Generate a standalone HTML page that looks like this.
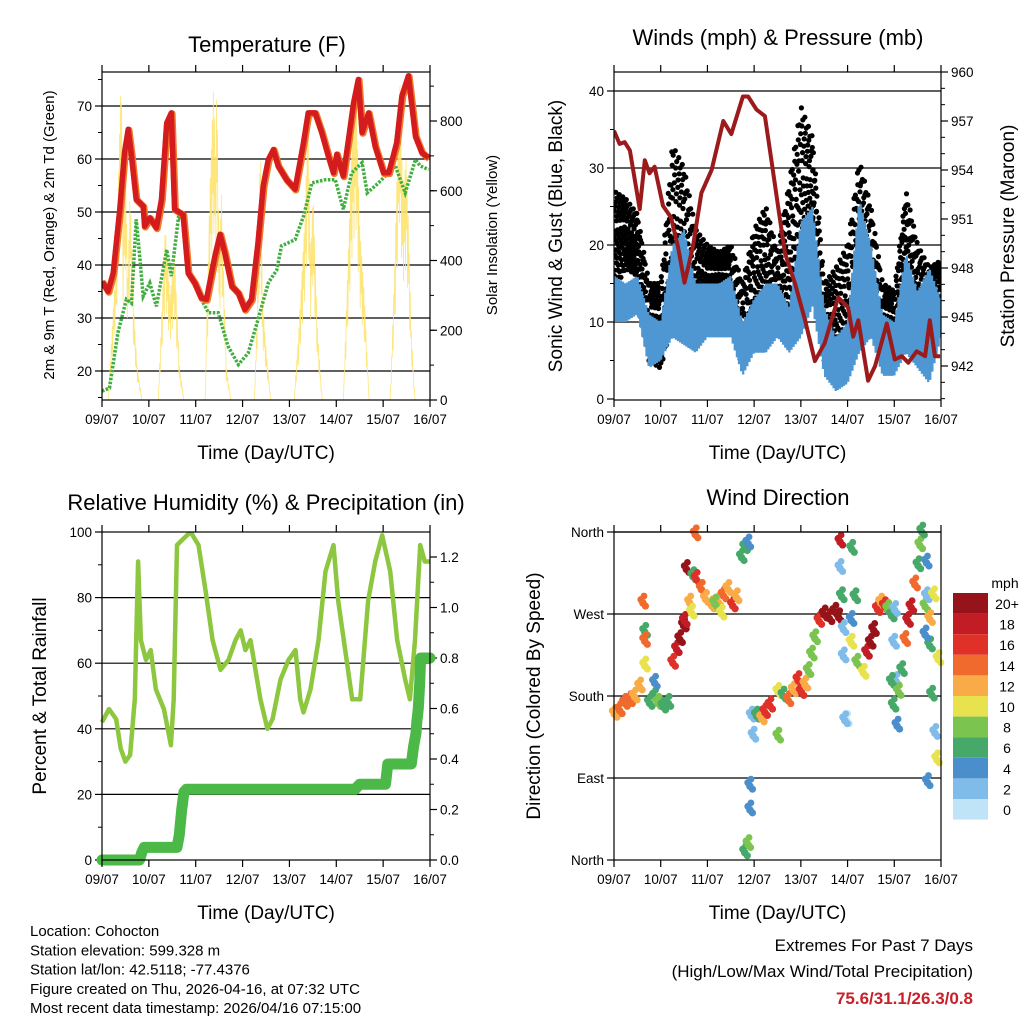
<!DOCTYPE html>
<html><head><meta charset="utf-8"><style>
html,body{margin:0;padding:0;background:#fff;}
svg{display:block;font-family:"Liberation Sans",sans-serif;}
</style></head><body>
<svg id="c" width="1024" height="1024" viewBox="0 0 1024 1024"></svg>
<script>
// ---------- DATA ----------
const dayLabels=["09/07","10/07","11/07","12/07","13/07","14/07","15/07","16/07"];
const tempT=[0,0.13,0.24,0.38,0.48,0.56,0.63,0.73,0.88,0.91,1.02,1.16,1.27,1.38,1.48,1.55,1.73,1.84,1.98,2.12,2.23,2.41,2.52,2.62,2.77,2.91,3.05,3.19,3.33,3.44,3.55,3.66,3.76,3.94,4.12,4.30,4.40,4.55,4.69,4.83,4.94,5.01,5.15,5.26,5.37,5.47,5.55,5.69,5.83,6.01,6.12,6.29,6.40,6.54,6.69,6.83,6.97];
const tempV=[36.9,35.0,38.5,50.5,61.2,65.6,60.6,52.4,51.1,47.3,48.9,47.0,52.4,66.8,68.7,50.5,49.5,38.5,36.6,33.8,33.5,41.7,45.8,42.3,36.0,34.7,31.6,33.5,44.2,54.9,59.9,61.8,58.7,56.1,54.3,63.1,68.7,68.7,65.0,60.6,57.4,60.9,56.8,63.7,70.6,75.0,65.0,68.7,62.4,57.4,57.4,63.1,71.9,75.7,64.3,61.2,60.2];
const dewT=[0,0.16,0.34,0.52,0.63,0.73,0.81,0.88,1.02,1.16,1.38,1.48,1.63,1.73,1.84,2.05,2.27,2.48,2.69,2.91,3.12,3.33,3.55,3.73,3.83,4.12,4.30,4.48,4.77,4.98,5.15,5.33,5.55,5.66,5.90,6.26,6.47,6.69,6.79,6.97];
const dewV=[16.2,16.8,27.2,33.5,32.8,48.6,41.0,34.1,36.6,32.2,42.9,37.9,48.9,48.6,38.5,34.7,31.0,31.0,24.7,21.2,23.4,29.7,36.6,39.1,43.6,44.8,49.2,55.5,56.1,56.1,50.5,57.4,59.3,53.6,55.5,58.7,53.6,59.9,58.7,58.0];
// solar insolation envelope (upper values of the daytime spikes)
const solarT=[0,0.13,0.3,0.41,0.45,0.5,0.55,0.6,0.68,0.75,0.85,1.2,1.35,1.45,1.55,1.65,1.75,2.2,2.3,2.38,2.42,2.45,2.5,2.55,2.65,2.75,3.25,3.3,3.35,3.38,3.42,3.5,3.6,4.1,4.2,4.32,4.4,4.45,4.5,4.6,4.7,5.15,5.25,5.35,5.42,5.5,5.6,5.7,6.15,6.25,6.35,6.42,6.5,6.6,6.68,7.0];
const solarV=[0,0,400,940,500,700,350,600,250,100,0,0,500,300,420,100,0,0,600,900,700,920,400,600,100,0,0,200,500,780,300,150,0,0,200,500,820,400,600,200,0,0,400,800,900,500,300,0,0,400,940,600,700,200,0,0];
const windT=[0,0.25,0.5,0.75,1.0,1.25,1.5,1.75,2.0,2.25,2.5,2.75,3.0,3.25,3.5,3.75,4.0,4.25,4.5,4.75,5.0,5.25,5.5,5.75,6.0,6.25,6.5,6.75,7.0];
const windLo=[10,10,11,4,5,8,7,6,8,8,8,3,6,6,8,6,8,12,3,1,2,6,8,3,3,6,4,2,8];
const windHi=[16,15,16,11,10,20,22,15,15,15,16,10,13,15,15,12,23,25,12,8,10,26,20,11,10,19,14,17,13];
const gustLo=[14,17,16,5,4,10,12,10,10,12,10,4,8,10,10,12,15,20,5,2,5,12,12,5,5,15,8,6,10];
const gustHi=[27,26,24,15,15,33,30,22,20,19,20,15,22,25,19,28,38,34,15,17,20,31,25,15,14,27,20,17,18];
const presT=[0,0.12,0.23,0.34,0.55,0.66,0.76,0.87,1.05,1.22,1.37,1.51,1.69,1.87,2.09,2.34,2.51,2.76,2.87,3.05,3.23,3.37,3.51,3.66,3.87,4.09,4.30,4.51,4.80,5.01,5.12,5.23,5.44,5.59,5.84,6.01,6.16,6.30,6.48,6.66,6.76,6.87,6.98];
const presV=[956.4,955.6,955.7,955.2,951.6,954.6,953.8,954.2,951.8,951.1,949.3,947.1,949.3,952.6,954.0,957.0,956.2,958.5,958.5,957.7,957.3,954.6,951.8,948.9,947.1,944.8,942.3,943.4,946.2,945.6,943.8,944.8,941.1,942.0,944.6,942.4,942.6,942.2,942.9,942.6,944.8,942.6,942.6];
const rhT=[0,0.15,0.3,0.4,0.5,0.6,0.7,0.77,0.83,0.94,1.04,1.15,1.32,1.47,1.53,1.6,1.74,1.89,2.06,2.21,2.36,2.53,2.70,2.85,2.96,3.06,3.17,3.38,3.53,3.64,3.81,3.98,4.13,4.23,4.30,4.45,4.62,4.77,4.94,5.04,5.19,5.34,5.51,5.68,5.83,5.98,6.15,6.30,6.47,6.57,6.68,6.79,6.89,7.0];
const rhV=[42,46,43,34,30,32,49,91,67,61,64,52,46,35,49,96,98,100,96,82,67,58,61,67,70,64,67,49,40,43,55,61,64,49,45,52,67,88,96,79,64,49,49,79,91,99,88,67,55,49,67,96,91,91];
const rainT=[0,0.15,0.5,0.8,0.85,0.9,1.6,1.65,1.7,1.75,1.8,5.4,5.5,6.05,6.1,6.6,6.65,6.7,6.72,6.75,6.78,6.8,7.0];
const rainV=[0,0,0,0,0.03,0.05,0.05,0.1,0.2,0.27,0.28,0.28,0.3,0.3,0.38,0.38,0.45,0.5,0.55,0.6,0.7,0.8,0.8];
// wind direction observations: time (day), direction (deg), speed (mph)
const dirT=[0.01,0.12,0.23,0.34,0.44,0.55,0.62,0.66,0.66,0.66,0.76,0.87,0.94,1.05,1.16,0.87,1.26,1.34,1.41,1.49,1.51,1.55,1.62,1.66,1.69,1.76,1.87,1.96,2.09,2.23,2.34,2.44,2.54,2.62,2.16,2.30,2.73,2.80,2.87,1.74,2.80,2.87,2.91,2.91,2.94,2.98,3.05,3.16,3.23,3.34,3.51,3.51,3.62,3.73,3.84,3.94,4.01,4.09,4.16,4.23,4.30,4.39,4.50,4.61,4.73,4.81,4.84,4.84,4.87,4.91,4.91,4.98,4.94,5.08,5.08,5.09,5.16,5.20,5.34,5.41,5.49,5.56,5.64,5.71,5.79,5.86,5.94,5.99,6.01,6.04,6.06,5.94,5.98,6.09,6.16,6.23,6.29,6.36,6.44,6.51,6.55,6.59,6.66,6.69,6.76,6.76,6.71,6.80,6.87,6.91,6.94,6.84,6.66,6.69];
const dirV=[160,164,172,175,179,190,282,250,213,240,172,179,172,168,172,194,216,231,242,257,262,319,282,271,311,308,297,286,279,283,290,297,279,288,281,270,332,343,347,357,8,17,55,81,158,136,158,155,162,169,184,135,180,175,186,197,184,192,207,225,243,262,269,265,272,266,349,320,289,253,223,153,153,263,238,341,288,216,205,227,238,252,275,282,278,275,268,238,274,196,147,195,169,184,208,241,262,277,302,323,345,360,278,289,264,235,85,181,139,110,220,290,247,326,1,12];
const dirS=[12,14,14,15,13,12,14,6,10,14,6,7,8,7,7,5,16,18,20,20,18,20,12,10,6,16,14,13,12,12,14,12,16,12,8,10,6,6,4,14,7,8,4,4,3,2,6,12,16,16,10,8,6,14,12,16,16,12,8,8,8,16,20,20,20,20,19,3,6,3,2,1,3,4,10,6,7,8,10,18,20,20,16,12,16,8,6,3,3,2,4,6,6,8,7,14,18,18,14,6,8,6,8,3,12,6,4,6,2,10,10,10,4,4,8,3];
const cbarLabels=["20+","18","16","14","12","10","8","6","4","2","0"];
const cbarColors=["#961419","#c21d25","#df3127","#f06a2e","#f9ab48","#e8e24e","#7cc450","#46a96a","#4a8fcc","#80bce9","#bfe4f8"];

// ---------- HELPERS ----------
const svg=document.getElementById('c');
const NS="http://www.w3.org/2000/svg";
function el(tag,attrs,parent){const e=document.createElementNS(NS,tag);for(const k in attrs)e.setAttribute(k,attrs[k]);(parent||svg).appendChild(e);return e;}
function txt(s,x,y,size,anchor,parent,extra){const t=el('text',Object.assign({x:x,y:y,'font-size':size,'text-anchor':anchor||'middle',fill:'#000'},extra||{}),parent);t.textContent=s;return t;}
function lin(d0,d1,r0,r1){return v=>r0+(v-d0)/(d1-d0)*(r1-r0);}
function pathFrom(xs,ys,sx,sy){return xs.map((v,i)=>(i?'L':'M')+sx(v).toFixed(1)+','+sy(ys[i]).toFixed(1)).join('');}
function interp(ts,vs,t){if(t<=ts[0])return vs[0];for(let i=1;i<ts.length;i++){if(t<=ts[i]){const f=(t-ts[i-1])/(ts[i]-ts[i-1]);return vs[i-1]+f*(vs[i]-vs[i-1]);}}return vs[vs.length-1];}

function frame(g,X0,X1,Y0,Y1,sx){
  const r=el('rect',{x:X0,y:Y0,width:X1-X0,height:Y1-Y0,fill:'none',stroke:'#000','stroke-width':1.2},g);
  
  
  dayLabels.forEach((d,i)=>{const x=sx(i);
    el('line',{x1:x,y1:Y1,x2:x,y2:Y1+7,stroke:'#000','stroke-width':1.2},g);
    el('line',{x1:x,y1:Y0,x2:x,y2:Y0-7,stroke:'#000','stroke-width':1.2},g);
    const t=txt(d,x,Y1+24,13.5,'middle',g);
    
    
  });
  const xt=txt('Time (Day/UTC)',(X0+X1)/2,Y1+59,19,'middle',g);
  
  
}
function yTicks(g,vals,labels,sy,x,side,grid,X0,X1,minor){
  vals.forEach((v,i)=>{const y=sy(v);
    el('line',{x1:x,y1:y,x2:x+(side<0?-7:7),y2:y,stroke:'#000','stroke-width':1.2},g);
    if(grid) el('line',{x1:X0,y1:y,x2:X1,y2:y,stroke:'#000','stroke-width':1.2},g);
    const t=txt(labels[i],x+(side<0?-10:10),y+5,13.5,side<0?'end':'start',g);
    
    
  });
  (minor||[]).forEach(v=>{const y=sy(v);el('line',{x1:x,y1:y,x2:x+(side<0?-4:4),y2:y,stroke:'#000','stroke-width':1},g);});
}
function vlabel(s,x,y,size,g,name){const t=txt(s,x,y,size,'middle',g,{transform:'rotate(-90 '+x+' '+y+')'});return t;}
function range(a,b,s){const r=[];for(let v=a;v<=b+1e-9;v+=s)r.push(+v.toFixed(3));return r;}

// ---------- PANEL 1: TEMPERATURE ----------
(function(){
  const X0=102,X1=430,Y0=72,Y1=400;
  const g=el('g',{});
  
  
  const sx=lin(0,7,X0,X1), sy=lin(20,70,371,106), sr=lin(0,800,Y1,121);
  const clip=el('clipPath',{id:'cp1'},g);el('rect',{x:X0,y:Y0,width:X1-X0,height:Y1-Y0},clip);
  yTicks(g,[20,30,40,50,60,70],["20","30","40","50","60","70"],sy,X0,-1,true,X0,X1,range(15,75,5));
  yTicks(g,[0,200,400,600,800],["0","200","400","600","800"],sr,X1,1,false,X0,X1,range(0,900,100));
  const data=el('g',{'clip-path':'url(#cp1)'},g);
  let d='',k=0;
  for(let t=0;t<=7;t+=0.011,k++){
    const env=interp(solarT,solarV,t);
    const v=(k%2===0)?env:env*([0.3,0.55,0.15,0.7][k%4]);
    d+=(k?'L':'M')+sx(t).toFixed(1)+','+sr(v).toFixed(1);
  }
  const s=el('path',{d:d,fill:'none',stroke:'#fde36e','stroke-width':0.8,opacity:0.9},data);
  
  const dw=el('path',{d:pathFrom(dewT,dewV,sx,sy),fill:'none',stroke:'#3fae3f','stroke-width':3.5,'stroke-dasharray':'2.5 1.5'},data);
  
  const o=el('path',{d:pathFrom(tempT,tempV,sx,sy),fill:'none',stroke:'#f07a2a','stroke-width':7,'stroke-linejoin':'round',transform:'translate(0.8,0.8)'},data);
  
  const r=el('path',{d:pathFrom(tempT,tempV,sx,sy),fill:'none',stroke:'#d41c1f','stroke-width':5.5,'stroke-linejoin':'round'},data);
  
  frame(g,X0,X1,Y0,Y1,sx);
  const t=txt('Temperature (F)',267,52,22,'middle',g);
  vlabel('2m & 9m T (Red, Orange) & 2m Td (Green)',54,235,15,g,'temperature-y-axis-title');
  vlabel('Solar Insolation (Yellow)',497,235,15,g,'solar-y-axis-title');
})();

// ---------- PANEL 2: WINDS & PRESSURE ----------
(function(){
  const X0=614,X1=941,Y0=72,Y1=400;
  const g=el('g',{});
  
  
  const sx=lin(0,7,X0,X1), sy=lin(0,40,399,91), sp=lin(942,960,366,72);
  const clip=el('clipPath',{id:'cp2'},g);el('rect',{x:X0,y:Y0,width:X1-X0,height:Y1-Y0},clip);
  yTicks(g,[0,10,20,30,40],["0","10","20","30","40"],sy,X0,-1,false,X0,X1,range(5,40,5));
  [10,20,30,40].forEach(v=>el('line',{x1:X0,y1:sy(v),x2:X1,y2:sy(v),stroke:'#000','stroke-width':1.2},g));
  yTicks(g,[942,945,948,951,954,957,960],["942","945","948","951","954","957","960"],sp,X1,1,false,X0,X1,range(940,960,1));
  const data=el('g',{'clip-path':'url(#cp2)'},g);
  const gg=el('g',{fill:'#000'},data);
  let k=0;
  for(let t=0;t<=7;t+=0.0075,k++){
    const lo=interp(windT,gustLo,t),hi=interp(windT,gustHi,t);
    const fr=[0,0.55,0.2,0.85,0.4,1,0.1,0.7,0.3,0.95][k%10];
    const fr2=[0.6,0.15,0.8,0.35,0.05,0.5,0.9,0.25,0.75,0.45][k%10];
    el('circle',{cx:sx(t).toFixed(1),cy:sy(lo+(hi-lo)*fr).toFixed(1),r:2.6},gg);
    el('circle',{cx:sx(t).toFixed(1),cy:sy(lo+(hi-lo)*fr2).toFixed(1),r:2.6},gg);
  }
  let d='';k=0;
  for(let t=0;t<=7;t+=0.005,k++){
    const lo=interp(windT,windLo,t),hi=interp(windT,windHi,t);
    const f=[0.1,0.9,0.4,1,0,0.7,0.25,0.85,0.55][k%9];
    d+=(k?'L':'M')+sx(t).toFixed(1)+','+sy(lo+(hi-lo)*f).toFixed(1);
  }
  const bl=el('path',{d:d,fill:'none',stroke:'#4f97d2','stroke-width':2.2},data);
  
  const p=el('path',{d:pathFrom(presT,presV,sx,sp),fill:'none',stroke:'#9b1a1c','stroke-width':4,'stroke-linejoin':'round'},data);
  
  frame(g,X0,X1,Y0,Y1,sx);
  const t=txt('Winds (mph) & Pressure (mb)',778,45,22,'middle',g);
  vlabel('Sonic Wind & Gust (Blue, Black)',562,236,19,g,'wind-y-axis-title');
  vlabel('Station Pressure (Maroon)',1014,236,19,g,'pressure-y-axis-title');
})();

// ---------- PANEL 3: RH & PRECIP ----------
(function(){
  const X0=102,X1=430,Y0=532,Y1=860;
  const g=el('g',{});
  
  
  const sx=lin(0,7,X0,X1), sy=lin(0,100,860,532), sr=lin(0,1.2,860,557);
  const clip=el('clipPath',{id:'cp3'},g);el('rect',{x:X0-8,y:Y0,width:X1-X0+16,height:Y1-Y0+8},clip);
  yTicks(g,[0,20,40,60,80,100],["0","20","40","60","80","100"],sy,X0,-1,false,X0,X1,range(10,90,20));
  [20,40,60,80].forEach(v=>el('line',{x1:X0,y1:sy(v),x2:X1,y2:sy(v),stroke:'#000','stroke-width':1.2},g));
  yTicks(g,[0,0.2,0.4,0.6,0.8,1.0,1.2],["0.0","0.2","0.4","0.6","0.8","1.0","1.2"],sr,X1,1,false,X0,X1,range(0.1,1.2,0.2));
  const data=el('g',{'clip-path':'url(#cp3)'},g);
  const rh=el('path',{d:pathFrom(rhT,rhV,sx,sy),fill:'none',stroke:'#8dc63f','stroke-width':4.5,'stroke-linejoin':'round'},data);
  
  const rn=el('path',{d:pathFrom(rainT,rainV,sx,sr),fill:'none',stroke:'#4cb848','stroke-width':11,'stroke-linejoin':'round','stroke-linecap':'round'},data);
  
  frame(g,X0,X1,Y0,Y1,sx);
  const t=txt('Relative Humidity (%) & Precipitation (in)',266,510,22,'middle',g);
  vlabel('Percent & Total Rainfall',46,696,19,g,'humidity-y-axis-title');
})();

// ---------- PANEL 4: WIND DIRECTION ----------
(function(){
  const X0=614,X1=941,Y0=532,Y1=860;
  const g=el('g',{});
  
  
  const sx=lin(0,7,X0,X1), sy=lin(0,360,860,532);
  yTicks(g,[0,90,180,270,360],["North","East","South","West","North"],sy,X0,-1,false,X0,X1,[]);
  [90,180,270,360].forEach(v=>el('line',{x1:X0,y1:sy(v),x2:X1,y2:sy(v),stroke:'#000','stroke-width':1.2},g));
  const data=el('g',{},g);
  function col(s){const idx=Math.min(10,Math.floor(s/2));return cbarColors[10-idx];}
  dirT.forEach((t,i)=>{
    const x=sx(t),y=sy(dirV[i]),c=col(dirS[i]);
    el('circle',{cx:x,cy:y,r:3.8,fill:c},data);
    el('circle',{cx:x+2.5,cy:y+3,r:3.6,fill:c},data);
    el('circle',{cx:x-2,cy:y-3.5,r:3.6,fill:c},data);
    el('circle',{cx:x+1,cy:y-7,r:3.4,fill:c},data);
  });
  frame(g,X0,X1,Y0,Y1,sx);
  const t=txt('Wind Direction',778,505,22,'middle',g);
  vlabel('Direction (Colored By Speed)',540,696,19,g,'direction-y-axis-title');
  const cb=el('g',{},g);
  const ct=txt('mph',1005,588,14,'middle',cb);
  cbarLabels.forEach((l,i)=>{
    const y=593+i*20.6;
    el('rect',{x:953,y:y,width:35,height:20.6,fill:cbarColors[i]},cb);
    const lt=txt(l,1007,y+16,14,'middle',cb);
    
    
  });
})();

// ---------- FOOTER TEXT ----------
(function(){
  const g=el('g',{});
  
  
  ["Location: Cohocton","Station elevation: 599.328 m","Station lat/lon: 42.5118; -77.4376","Figure created on Thu, 2026-04-16, at 07:32 UTC","Most recent data timestamp: 2026/04/16 07:15:00"].forEach((s,i)=>{
    const t=txt(s,30,936+i*19.3,15,'start',g);
    
    
  });
  const e=el('g',{});
  
  
  const a=txt('Extremes For Past 7 Days',973,951,17,'end',e);
  const b=txt('(High/Low/Max Wind/Total Precipitation)',973,977,17,'end',e);
  const c=txt('75.6/31.1/26.3/0.8',973,1004,17,'end',e,{fill:'#c8202a','font-weight':'bold'});
})();
</script>
</body></html>
